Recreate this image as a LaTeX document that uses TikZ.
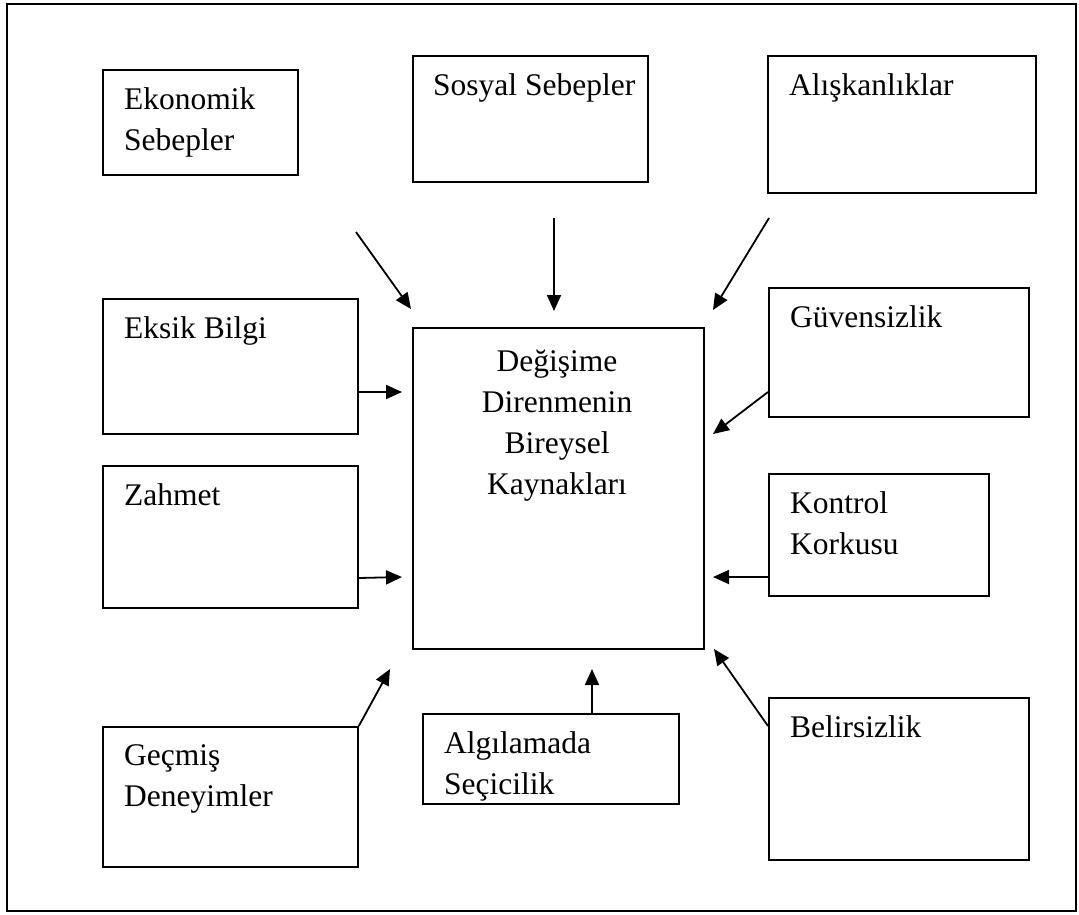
\documentclass[tikz,border=0pt]{standalone}
\usepackage{fontspec}
\setmainfont{Liberation Serif}
\usetikzlibrary{arrows.meta,calc}
\begin{document}
\begin{tikzpicture}[x=1pt,y=-1pt,
  box/.style={draw=black,line width=1.8pt,rectangle,inner sep=0pt,anchor=north west},
  txt/.style={inner sep=0pt,anchor=north west,align=left,font=\fontsize{31.5}{41}\selectfont},
  ctxt/.style={inner sep=0pt,anchor=north,align=center,font=\fontsize{31.5}{41}\selectfont},
  arr/.style={line width=1.8pt,-{Triangle[length=16pt,width=14pt]}}]
\useasboundingbox (0,0) rectangle (1079,914);
\node[box,minimum width=1069pt,minimum height=907pt] (frame) at (6,3) {};
% boxes
\node[box,minimum width=195pt,minimum height=105pt] (eko) at (102,69) {};
\node[box,minimum width=235pt,minimum height=126pt] (sos) at (412,55) {};
\node[box,minimum width=268pt,minimum height=137pt] (ali) at (767,55) {};
\node[box,minimum width=255pt,minimum height=135pt] (eks) at (102,298) {};
\node[box,minimum width=291pt,minimum height=321pt] (mid) at (412,327) {};
\node[box,minimum width=260pt,minimum height=129pt] (guv) at (768,287) {};
\node[box,minimum width=255pt,minimum height=142pt] (zah) at (102,465) {};
\node[box,minimum width=220pt,minimum height=122pt] (kon) at (768,473) {};
\node[box,minimum width=255pt,minimum height=140pt] (gec) at (102,726) {};
\node[box,minimum width=256pt,minimum height=90pt] (alg) at (422,713) {};
\node[box,minimum width=260pt,minimum height=162pt] (bel) at (768,697) {};
% texts
\node[txt] (ekoT) at ($(eko.north west)+(22,18)$) {Ekonomik\\Sebepler};
\node[txt] (sosT) at ($(sos.north west)+(21,18)$) {Sosyal Sebepler};
\node[txt] (aliT) at ($(ali.north west)+(22,18)$) {Alışkanlıklar};
\node[txt] (eksT) at ($(eks.north west)+(22,18)$) {Eksik Bilgi};
\node[ctxt] (midT) at (557,350) {Değişime\\Direnmenin\\Bireysel\\Kaynakları};
\node[txt] (guvT) at ($(guv.north west)+(22,18)$) {Güvensizlik};
\node[txt] (zahT) at ($(zah.north west)+(22,18)$) {Zahmet};
\node[txt] (konT) at ($(kon.north west)+(22,18)$) {Kontrol\\Korkusu};
\node[txt] (gecT) at ($(gec.north west)+(22,18)$) {Geçmiş\\Deneyimler};
\node[txt] (algT) at ($(alg.north west)+(22,18)$) {Algılamada\\Seçicilik};
\node[txt] (belT) at ($(bel.north west)+(22,18)$) {Belirsizlik};
% arrow points
\coordinate (a1s) at (356,232); \coordinate (a1e) at (411,309);
\coordinate (a2s) at (554,218); \coordinate (a2e) at (554,311);
\coordinate (a3s) at (769,218); \coordinate (a3e) at (713,310);
\coordinate (a4e) at (402,392);
\coordinate (a5e) at (713,434);
\coordinate (a6e) at (402,577);
\coordinate (a7e) at (713,577);
\coordinate (a8e) at (390,669);
\coordinate (a9e) at (592,669);
\coordinate (a10e) at (714,649);
\draw[arr] (a1s) -- (a1e);
\draw[arr] (a2s) -- (a2e);
\draw[arr] (a3s) -- (a3e);
\draw[arr] (eks.north east |- 0,392) -- (a4e);
\draw[arr] (guv.north west |- 0,392) -- (a5e);
\draw[arr] (zah.north east |- 0,578) -- (a6e);
\draw[arr] (kon.north west |- 0,577) -- (a7e);
\draw[arr] (gec.north east) -- (a8e);
\draw[arr] (alg.north west -| 592,0) -- (a9e);
\draw[arr] (bel.north west |- 0,726) -- (a10e);
\end{tikzpicture}
\end{document}
